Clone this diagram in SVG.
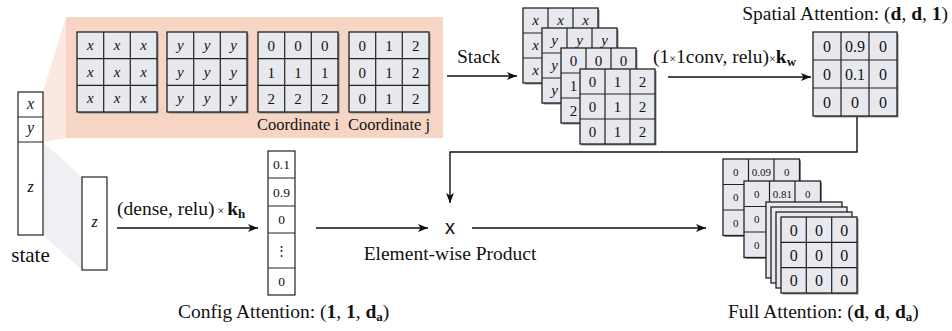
<svg xmlns="http://www.w3.org/2000/svg" width="952" height="331" viewBox="0 0 952 331">
<style>
text{font-family:"Liberation Serif","Times New Roman",serif;fill:#111}
.c{font-size:15px;text-anchor:middle}
.cs{font-size:11px;text-anchor:middle}
.mi{font-style:italic}
.lb{font-size:19.5px}
.cap{font-size:16.5px;text-anchor:middle}
.b{font-weight:bold}
.cg{fill:#e8e9ee;stroke:#222;stroke-width:1.3}
.gl{fill:none;stroke:#222;stroke-width:1.2}
.box{fill:#fff;stroke:#222;stroke-width:1.2}
.sh{fill:#8a8a8a}
.ln{fill:none;stroke:#111;stroke-width:1.4}
</style>
<defs>
<marker id="ah" markerUnits="userSpaceOnUse" markerWidth="12" markerHeight="10" refX="10" refY="4" orient="auto">
<path d="M0,0 L10,4 L0,8 L2.5,4 z" fill="#111"/>
</marker>
</defs>

<g id="funnels">
<polygon points="43,92 66,17 66,138 43,142" fill="#fbe9e1"/>
<polygon points="43,142 82,177 82,270 43,235" fill="#f0f0f4"/>
</g>

<g id="panel">
<rect x="66" y="17" width="377" height="121" fill="#f6d5c5"/>
<g id="grid-x">
<rect x="78.5" y="33.5" width="80" height="80" class="sh"/>
<rect x="77" y="32" width="80" height="80" class="cg"/>
<path d="M103.7 32v80M130.3 32v80M77 58.7h80M77 85.3h80" class="gl"/>
<text class="c mi" x="90.3" y="50">x</text><text class="c mi" x="117" y="50">x</text><text class="c mi" x="143.7" y="50">x</text>
<text class="c mi" x="90.3" y="77">x</text><text class="c mi" x="117" y="77">x</text><text class="c mi" x="143.7" y="77">x</text>
<text class="c mi" x="90.3" y="103">x</text><text class="c mi" x="117" y="103">x</text><text class="c mi" x="143.7" y="103">x</text>
</g>
<g id="grid-y">
<rect x="168.5" y="33.5" width="80" height="80" class="sh"/>
<rect x="167" y="32" width="80" height="80" class="cg"/>
<path d="M193.7 32v80M220.3 32v80M167 58.7h80M167 85.3h80" class="gl"/>
<text class="c mi" x="180.3" y="50">y</text><text class="c mi" x="207" y="50">y</text><text class="c mi" x="233.7" y="50">y</text>
<text class="c mi" x="180.3" y="77">y</text><text class="c mi" x="207" y="77">y</text><text class="c mi" x="233.7" y="77">y</text>
<text class="c mi" x="180.3" y="103">y</text><text class="c mi" x="207" y="103">y</text><text class="c mi" x="233.7" y="103">y</text>
</g>
<g id="grid-i">
<rect x="259.5" y="33.5" width="80" height="80" class="sh"/>
<rect x="258" y="32" width="80" height="80" class="cg"/>
<path d="M284.7 32v80M311.3 32v80M258 58.7h80M258 85.3h80" class="gl"/>
<text class="c" x="271.3" y="50.5">0</text><text class="c" x="298" y="50.5">0</text><text class="c" x="324.7" y="50.5">0</text>
<text class="c" x="271.3" y="77.5">1</text><text class="c" x="298" y="77.5">1</text><text class="c" x="324.7" y="77.5">1</text>
<text class="c" x="271.3" y="104">2</text><text class="c" x="298" y="104">2</text><text class="c" x="324.7" y="104">2</text>
</g>
<g id="grid-j">
<rect x="350.5" y="33.5" width="80" height="80" class="sh"/>
<rect x="349" y="32" width="80" height="80" class="cg"/>
<path d="M375.7 32v80M402.3 32v80M349 58.7h80M349 85.3h80" class="gl"/>
<text class="c" x="362.3" y="50.5">0</text><text class="c" x="389" y="50.5">1</text><text class="c" x="415.7" y="50.5">2</text>
<text class="c" x="362.3" y="77.5">0</text><text class="c" x="389" y="77.5">1</text><text class="c" x="415.7" y="77.5">2</text>
<text class="c" x="362.3" y="104">0</text><text class="c" x="389" y="104">1</text><text class="c" x="415.7" y="104">2</text>
</g>
<text class="cap" x="298" y="130">Coordinate i</text>
<text class="cap" x="389" y="130">Coordinate j</text>
</g>

<g id="state">
<rect x="18" y="92" width="25" height="143" class="box"/>
<path d="M18 117h25M18 142h25" class="gl"/>
<text class="c mi" x="30.5" y="109" style="font-size:16px">x</text>
<text class="c mi" x="30.5" y="133" style="font-size:16px">y</text>
<text class="c mi" x="30.5" y="192" style="font-size:16px">z</text>
<text class="lb" x="30.5" y="262" text-anchor="middle" style="font-size:21px">state</text>
</g>

<g id="z-box">
<rect x="82" y="177" width="25" height="93" class="box"/>
<text class="c mi" x="94.5" y="227" style="font-size:16px">z</text>
</g>

<g id="stack">
<g>
<rect x="524.5" y="9.5" width="75" height="75" class="sh"/>
<rect x="523" y="8" width="75" height="75" class="cg"/>
<path d="M548 8v75M573 8v75M523 33h75M523 58h75" class="gl"/>
<text class="c mi" x="535.5" y="25">x</text><text class="c mi" x="560.5" y="25">x</text><text class="c mi" x="585.5" y="25">x</text>
<text class="c mi" x="535.5" y="50">x</text><text class="c mi" x="535.5" y="75">x</text>
</g>
<g>
<rect x="543.5" y="29.5" width="75" height="75" class="sh"/>
<rect x="542" y="28" width="75" height="75" class="cg"/>
<path d="M567 28v75M592 28v75M542 53h75M542 78h75" class="gl"/>
<text class="c mi" x="554.5" y="45">y</text><text class="c mi" x="579.5" y="45">y</text><text class="c mi" x="604.5" y="45">y</text>
<text class="c mi" x="554.5" y="70">y</text><text class="c mi" x="554.5" y="95">y</text>
</g>
<g>
<rect x="562.5" y="49.5" width="75" height="75" class="sh"/>
<rect x="561" y="48" width="75" height="75" class="cg"/>
<path d="M586 48v75M611 48v75M561 73h75M561 98h75" class="gl"/>
<text class="c" x="573.5" y="66">0</text><text class="c" x="598.5" y="66">0</text><text class="c" x="623.5" y="66">0</text>
<text class="c" x="573.5" y="91">1</text><text class="c" x="573.5" y="116">2</text>
</g>
<g>
<rect x="581.5" y="70.5" width="75" height="75" class="sh"/>
<rect x="580" y="69" width="75" height="75" class="cg"/>
<path d="M605 69v75M630 69v75M580 94h75M580 119h75" class="gl"/>
<text class="c" x="592.5" y="87">0</text><text class="c" x="617.5" y="87">1</text><text class="c" x="642.5" y="87">2</text>
<text class="c" x="592.5" y="112">0</text><text class="c" x="617.5" y="112">1</text><text class="c" x="642.5" y="112">2</text>
<text class="c" x="592.5" y="137">0</text><text class="c" x="617.5" y="137">1</text><text class="c" x="642.5" y="137">2</text>
</g>
</g>

<g id="spatial">
<rect x="814.5" y="33.5" width="84" height="84" class="sh"/>
<rect x="813" y="32" width="84" height="84" class="cg"/>
<path d="M841 32v84M869 32v84M813 60h84M813 88h84" class="gl"/>
<text class="c" x="827" y="51.5" style="font-size:16px">0</text><text class="c" x="855" y="51.5" style="font-size:16px">0.9</text><text class="c" x="883" y="51.5" style="font-size:16px">0</text>
<text class="c" x="827" y="79.5" style="font-size:16px">0</text><text class="c" x="855" y="79.5" style="font-size:16px">0.1</text><text class="c" x="883" y="79.5" style="font-size:16px">0</text>
<text class="c" x="827" y="107.5" style="font-size:16px">0</text><text class="c" x="855" y="107.5" style="font-size:16px">0</text><text class="c" x="883" y="107.5" style="font-size:16px">0</text>
<text class="lb" x="948" y="20" text-anchor="end">Spatial Attention: (<tspan class="b">d</tspan>, <tspan class="b">d</tspan>, <tspan class="b">1</tspan>)</text>
</g>

<g id="config">
<rect x="268" y="151" width="27" height="144" class="box"/>
<path d="M268 178h27M268 206h27M268 233h27M268 268h27" class="gl"/>
<text class="c" x="281.5" y="169" style="font-size:13.5px">0.1</text>
<text class="c" x="281.5" y="196.5" style="font-size:13.5px">0.9</text>
<text class="c" x="281.5" y="224" style="font-size:13.5px">0</text>
<text class="c" x="281.5" y="255" style="font-size:13px;font-family:'DejaVu Serif',serif">⋮</text>
<text class="c" x="281.5" y="286" style="font-size:13.5px">0</text>
<text class="lb" x="178" y="318">Config Attention: (<tspan class="b">1</tspan>, <tspan class="b">1</tspan>, <tspan class="b">d</tspan><tspan class="b" style="font-size:13px" dy="3">a</tspan><tspan dy="-3">)</tspan></text>
</g>

<g id="product">
<text x="450" y="234" text-anchor="middle" style="font-family:'Liberation Sans',Arial,sans-serif;font-size:20px">x</text>
<text class="lb" x="450" y="260" text-anchor="middle">Element-wise Product</text>
</g>

<g id="full">
<g>
<rect x="724.5" y="160.5" width="76.5" height="76.5" class="sh"/>
<rect x="723" y="159" width="76.5" height="76.5" class="cg"/>
<path d="M748.5 159v76.5M774 159v76.5M723 184.5h76.5M723 210h76.5" class="gl"/>
<text class="cs" x="735.75" y="175.5">0</text><text class="cs" x="761.25" y="175.5">0.09</text><text class="cs" x="786.75" y="175.5">0</text>
<text class="cs" x="735.75" y="201">0</text><text class="cs" x="735.75" y="226.5">0</text>
</g>
<g>
<rect x="745.5" y="182.5" width="76.5" height="76.5" class="sh"/>
<rect x="744" y="181" width="76.5" height="76.5" class="cg"/>
<path d="M769.5 181v76.5M795 181v76.5M744 206.5h76.5M744 232h76.5" class="gl"/>
<text class="cs" x="756.75" y="197.5">0</text><text class="cs" x="782.25" y="197.5">0.81</text><text class="cs" x="807.75" y="197.5">0</text>
<text class="cs" x="756.75" y="223">0</text><text class="cs" x="756.75" y="248.5">0</text>
</g>
<rect x="766" y="202" width="76" height="76" class="cg"/>
<rect x="771" y="207" width="76" height="76" class="cg"/>
<rect x="776" y="212" width="76" height="76" class="cg"/>
<g>
<rect x="782.5" y="218.5" width="76" height="76" class="sh"/>
<rect x="781" y="217" width="76" height="76" class="cg"/>
<path d="M806.3 217v76M831.7 217v76M781 242.3h76M781 267.7h76" class="gl"/>
<text class="c" x="793.7" y="235.5" style="font-size:16px">0</text><text class="c" x="819" y="235.5" style="font-size:16px">0</text><text class="c" x="844.3" y="235.5" style="font-size:16px">0</text>
<text class="c" x="793.7" y="260.8" style="font-size:16px">0</text><text class="c" x="819" y="260.8" style="font-size:16px">0</text><text class="c" x="844.3" y="260.8" style="font-size:16px">0</text>
<text class="c" x="793.7" y="286" style="font-size:16px">0</text><text class="c" x="819" y="286" style="font-size:16px">0</text><text class="c" x="844.3" y="286" style="font-size:16px">0</text>
</g>
<text class="lb" x="728" y="318">Full Attention: (<tspan class="b">d</tspan>, <tspan class="b">d</tspan>, <tspan class="b">d</tspan><tspan class="b" style="font-size:13px" dy="3">a</tspan><tspan dy="-3">)</tspan></text>
</g>

<g id="connectors">
<path d="M447 76H517" class="ln" marker-end="url(#ah)"/>
<path d="M668 77H811" class="ln" marker-end="url(#ah)"/>
<path d="M857 117V152H450V203" class="ln" marker-end="url(#ah)"/>
<path d="M117 228H258" class="ln" marker-end="url(#ah)"/>
<path d="M316 228H428" class="ln" marker-end="url(#ah)"/>
<path d="M472 228H706" class="ln" marker-end="url(#ah)"/>
<text class="lb" x="457" y="63">Stack</text>
<text class="lb" x="653" y="63">(1<tspan style="font-size:12px">×</tspan>1conv, relu)<tspan style="font-size:12px">×</tspan><tspan class="b">k</tspan><tspan class="b" style="font-size:13px" dy="3">w</tspan></text>
<text class="lb" x="117" y="215">(dense, relu)<tspan style="font-size:12px"> × </tspan><tspan class="b">k</tspan><tspan class="b" style="font-size:13px" dy="3">h</tspan></text>
</g>
</svg>
